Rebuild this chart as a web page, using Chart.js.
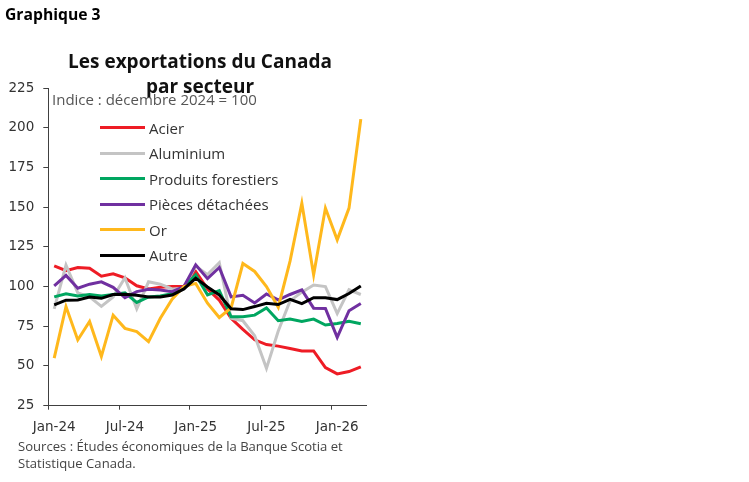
<!DOCTYPE html>
<html lang="fr">
<head>
<meta charset="utf-8">
<script src="https://cdn.jsdelivr.net/npm/chart.js@4.4.1/dist/chart.umd.min.js"></script>
<style>
  html, body { margin: 0; padding: 0; background: #fff; }
  #wrap { position: relative; width: 749px; height: 482px; overflow: hidden; font-family: "Open Sans", sans-serif; color: #333; }
  #chart { position: absolute; left: 0; top: 0; }
  .txt { position: absolute; white-space: nowrap; }
  #label { left: 5px; top: 3px; font-weight: 700; font-size: 15.7px; color: #000; }
  #title { left: 50px; width: 300px; top: 49px; text-align: center; font-weight: 700; font-size: 19px; line-height: 25px; color: #111; }
  #subtitle { left: 52px; top: 89px; font-size: 15px; color: #555; }
  #legend { position: absolute; left: 100px; top: 115px; }
  .item { height: 25.5px; display: flex; align-items: center; font-size: 15px; color: #333; }
  .swatch { width: 45px; height: 3px; margin-right: 4px; }
  #source { left: 18px; top: 438px; font-size: 13.1px; line-height: 17px; color: #444; }
</style>
</head>
<body>
<div id="wrap">
  <canvas id="chart" width="749" height="482"></canvas>
  <div class="txt" id="label">Graphique 3</div>
  <div class="txt" id="title">Les exportations du Canada<br>par secteur</div>
  <div class="txt" id="subtitle">Indice : décembre 2024 = 100</div>
  <div id="legend"></div>
  <div class="txt" id="source">Sources : Études économiques de la Banque Scotia et<br>Statistique Canada.</div>
</div>
<script>
// months Jan-24 .. Mar-26
const months = ['Jan-24', 'Feb-24', 'Mar-24', 'Apr-24', 'May-24', 'Jun-24', 'Jul-24', 'Aug-24', 'Sep-24',
  'Oct-24', 'Nov-24', 'Dec-24', 'Jan-25', 'Feb-25', 'Mar-25', 'Apr-25', 'May-25', 'Jun-25', 'Jul-25',
  'Aug-25', 'Sep-25', 'Oct-25', 'Nov-25', 'Dec-25', 'Jan-26', 'Feb-26', 'Mar-26'];
const xTickEvery = 6;
const yMin = 25, yMax = 225, yStep = 25;

const acier = [113, 110, 112, 111.5, 106.5, 108, 105.5, 100.5, 98.5, 99.5, 100, 100, 109.5, 98.5,
  91.5, 80, 73, 66.5, 63.5, 62.5, 61, 59.5, 59.5, 49, 45, 46.5, 49.5];
const aluminium = [86, 113.5, 96, 93.5, 87.5, 93.5, 105.5, 86, 103, 101.5, 98.5, 99, 113, 107.5,
  115, 80, 78.5, 69, 48.5, 72, 91, 96.5, 101, 100, 83, 98, 95];
const forestiers = [93.5, 95.5, 94, 95, 94, 95, 96, 90, 93.5, 94, 95.5, 99.5, 107.5, 94.8,
  97.5, 81, 81, 82, 86.5, 78.5, 79.5, 78, 79.5, 75.8, 76.8, 78.2, 76.6];
const pieces = [100.5, 107, 99, 101.5, 103, 99.5, 93, 96.8, 98.3, 97.9, 96.8, 100, 113.7, 105,
  112, 93.5, 94.5, 89.7, 95.3, 91.6, 95, 97.9, 86.4, 86.2, 68, 84.8, 89.3];
const or = [55, 87.4, 66.4, 78, 56, 82, 73.7, 71.6, 65.3, 80, 92, 100, 102, 89.5,
  80.5, 86.5, 114.5, 109.5, 100, 87, 116, 152.5, 107.4, 149.4, 129.4, 149.4, 205.4];
const autre = [88.5, 91.4, 91.6, 93.4, 92.6, 95, 95.2, 94.5, 93.4, 93.5, 94.7, 98.5, 105.3, 99.7,
  94.7, 86, 85.5, 87.4, 89.5, 88.7, 92, 89.3, 93, 93, 91.8, 95.6, 100.4];

const seriesNames = ['Acier', 'Aluminium', 'Produits forestiers', 'Pièces détachées', 'Or', 'Autre'];
const seriesValues = [acier, aluminium, forestiers, pieces, or, autre];
const seriesColors = ['#ee1c25', '#c4c4c4', '#00a660', '#7030a0', '#ffb81c', '#000000'];

const axisColor = '#404040';
const tickFont = { family: 'DejaVu Sans', size: 13.5 };

// html legend
const legend = document.getElementById('legend');
seriesNames.forEach((name, i) => {
    const row = document.createElement('div');
    row.className = 'item';
    row.innerHTML = '<span class="swatch" style="background:' + seriesColors[i] + '"></span>' + name;
    legend.appendChild(row);
});

new Chart(document.getElementById('chart'), {
    type: 'line',
    data: {
        labels: months,
        datasets: seriesValues.map((vals, i) => ({
            label: seriesNames[i],
            data: vals,
            borderColor: seriesColors[i],
            backgroundColor: seriesColors[i],
            borderWidth: 3,
            pointRadius: 0,
            tension: 0,
            // later series on top, like the source
            order: seriesValues.length - 1 - i
        }))
    },
    options: {
        responsive: false,
        animation: false,
        events: [],
        layout: { padding: { left: 0, top: 88, right: 382.3, bottom: 46.3 } },
        plugins: {
            legend: { display: false },
            tooltip: { enabled: false }
        },
        scales: {
            x: {
                type: 'category',
                offset: true,
                afterFit: s => { s.height = 30; },
                grid: {
                    offset: true,
                    drawOnChartArea: false,
                    tickLength: 4,
                    tickColor: ctx => (ctx.index % xTickEvery === 0 ? axisColor : 'rgba(0,0,0,0)')
                },
                border: { color: axisColor, width: 1 },
                ticks: {
                    autoSkip: false,
                    maxRotation: 0,
                    padding: 10,
                    color: '#333',
                    font: tickFont,
                    callback: (v, i) => (i % xTickEvery === 0 ? months[i] : '')
                }
            },
            y: {
                min: yMin,
                max: yMax,
                afterFit: s => { s.width = 48.3; },
                grid: { drawOnChartArea: false, tickLength: 5, tickColor: axisColor },
                border: { color: axisColor, width: 1 },
                ticks: { stepSize: yStep, padding: 9, color: '#333', font: tickFont }
            }
        }
    }
});
</script>
</body>
</html>
